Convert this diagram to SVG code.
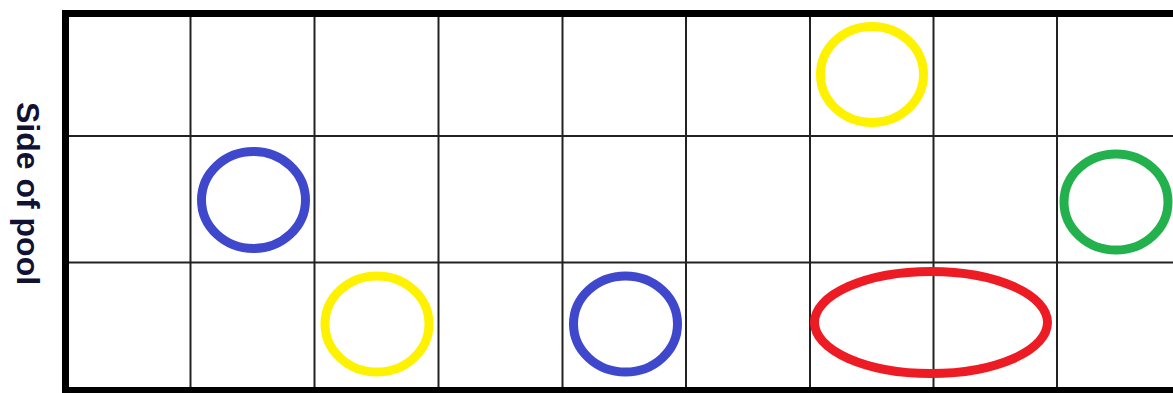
<svg xmlns="http://www.w3.org/2000/svg" width="1173" height="393" viewBox="0 0 1173 393">
  <style>
    .grid { stroke: #222; stroke-width: 2; fill: none; }
    .border { fill: #000; }
    .ring { fill: none; stroke-width: 9; }
    .yellow { stroke: #FFF200; }
    .blue { stroke: #3F48CC; }
    .green { stroke: #22B14C; }
    .red { stroke: #ED1C24; }
    .label { font-family: "Liberation Sans", Arial, sans-serif; font-weight: bold; font-size: 32px; fill: #111133; }
  </style>
  <rect width="1173" height="393" fill="#fff"/>
  <g id="grid">
    <path class="grid" d="M190.5 13V390 M314.5 13V390 M438.5 13V390 M562.5 13V390 M686 13V390 M810 13V390 M933.5 13V390 M1057 13V390 M66 136H1173 M66 262.5H1173"/>
    <rect class="border" x="62" y="10" width="1111" height="7"/>
    <rect class="border" x="62" y="10" width="7" height="383"/>
    <rect class="border" x="62" y="387" width="1111" height="6"/>
  </g>
  <g id="label-side">
    <text class="label" transform="translate(17,102) rotate(90)">Side of pool</text>
  </g>
  <g id="yellow-top"><ellipse class="ring yellow" cx="872" cy="74.5" rx="51.5" ry="48"/></g>
  <g id="blue-mid"><ellipse class="ring blue" cx="253.5" cy="200" rx="52" ry="48.5"/></g>
  <g id="green-mid"><ellipse class="ring green" cx="1116" cy="202" rx="52" ry="48"/></g>
  <g id="yellow-bottom"><ellipse class="ring yellow" cx="377" cy="324" rx="52" ry="48"/></g>
  <g id="blue-bottom"><ellipse class="ring blue" cx="625.5" cy="324" rx="52" ry="48"/></g>
  <g id="red-bottom"><ellipse class="ring red" cx="931" cy="322.5" rx="116.5" ry="51"/></g>
</svg>
